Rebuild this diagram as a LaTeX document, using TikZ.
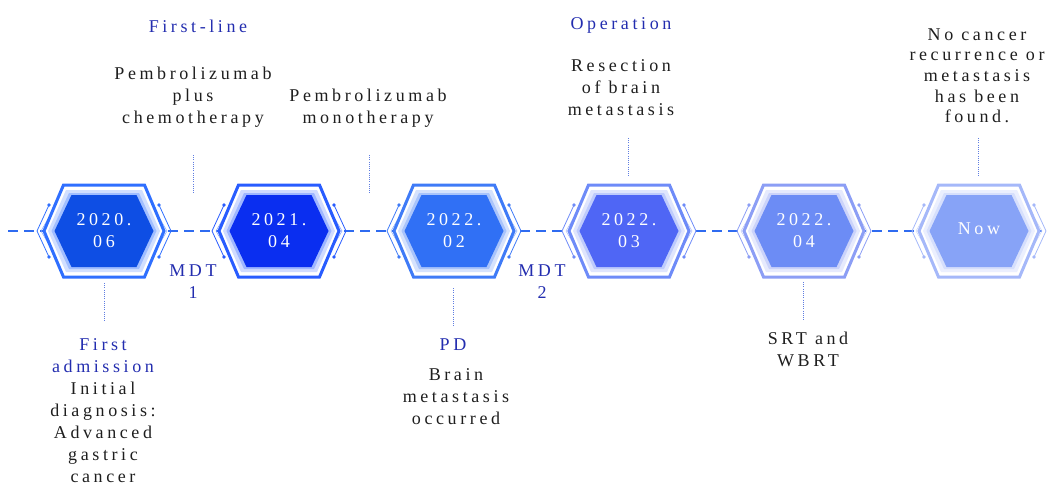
\documentclass[tikz,border=0pt]{standalone}
\usepackage{fontspec}
\setmainfont{Liberation Serif}[LetterSpace=20]
\usepackage{xcolor}
\usetikzlibrary{positioning}

\definecolor{tagblue}{RGB}{35,45,175}
\definecolor{ink}{RGB}{30,30,30}
\definecolor{axis}{RGB}{47,107,240}
\definecolor{dots}{RGB}{95,125,225}
\definecolor{fillA}{RGB}{14,78,228}  \definecolor{rimA}{RGB}{47,111,255}
\definecolor{fillB}{RGB}{10,46,240}  \definecolor{rimB}{RGB}{40,92,255}
\definecolor{fillC}{RGB}{48,112,245} \definecolor{rimC}{RGB}{63,123,247}
\definecolor{fillD}{RGB}{79,102,245} \definecolor{rimD}{RGB}{110,139,248}
\definecolor{fillE}{RGB}{108,140,245} \definecolor{rimE}{RGB}{140,158,245}
\definecolor{fillF}{RGB}{135,163,247} \definecolor{rimF}{RGB}{165,184,249}

% hexagon badge: centre x, fill, rim
\newcommand{\badge}[3]{%
  \draw[#3,line width=0.8pt] (#1-55,205) -- (#1-67,231) -- (#1-55,257);
  \draw[#3,line width=0.8pt] (#1+55,205) -- (#1+67,231) -- (#1+55,257);
  \draw[#3!60,line width=0.5pt] (#1-52,212) -- (#1-63,231) -- (#1-52,250);
  \draw[#3!60,line width=0.5pt] (#1+52,212) -- (#1+63,231) -- (#1+52,250);
  \fill[#3] (#1-55,205) circle (1.8pt) (#1-55,257) circle (1.8pt)
            (#1+55,205) circle (1.8pt) (#1+55,257) circle (1.8pt);
  \draw[#3,line width=3pt,fill=white] (#1-40.5,185) -- (#1+40.5,185) -- (#1+60,231)
       -- (#1+40.5,277) -- (#1-40.5,277) -- (#1-60,231) -- cycle;
  \fill[#3!22] (#1-38,190) -- (#1+38,190) -- (#1+56,231)
       -- (#1+38,272) -- (#1-38,272) -- (#1-56,231) -- cycle;
  \fill[#3!45] (#1-35,193) -- (#1+35,193) -- (#1+52.5,231)
       -- (#1+35,269) -- (#1-35,269) -- (#1-52.5,231) -- cycle;
  \fill[#2] (#1-32.5,195) -- (#1+32.5,195) -- (#1+49.5,231)
       -- (#1+32.5,267) -- (#1-32.5,267) -- (#1-49.5,231) -- cycle;
}

\tikzset{
  date/.style={text=white,align=center,font=\fontsize{18}{22}\selectfont},
  note/.style={text=ink,align=center,anchor=base,font=\fontsize{18}{22}\selectfont},
  tag/.style={text=tagblue,align=center,anchor=base,font=\fontsize{18}{22}\selectfont},
  link/.style={axis,line width=2pt,dash pattern=on 10pt off 6pt},
  stem/.style={dots,line width=0.8pt,dash pattern=on 1pt off 1.2pt}
}

\begin{document}
\begin{tikzpicture}[x=1pt,y=-1pt]
        \useasboundingbox (0,0) rectangle (1051,484);

        \coordinate (W) at (8,231);
        \coordinate (E) at (1047,231);
        \draw[link] (W) -- (E);

        \badge{104}{fillA}{rimA}
        \badge{279}{fillB}{rimB}
        \badge{454}{fillC}{rimC}
        \badge{629}{fillD}{rimD}
        \badge{804}{fillE}{rimE}
        \badge{979}{fillF}{rimF}

        \node[date] (D1) at (104,231) {2020.\\06};
        \node[date] (D2) at (279,231) {2021.\\04};
        \node[date] (D3) at (454,231) {2022.\\02};
        \node[date] (D4) at (629,231) {2022.\\03};
        \node[date] (D5) at (804,231) {2022.\\04};
        \node[date] (D6) at (979,229) {Now};

        % base = last line
        \node[tag] (FL) at (198,33) {First-line};
        \node[note] (PC) at (193,124) {Pembrolizumab\\plus\\chemotherapy};
        \node[note] (PM) at (368,124) {Pembrolizumab\\monotherapy};
        \node[tag] (OP) at (621,30) {Operation};
        \node[note] (RB) at (621,116) {Resection\\of brain\\metastasis};
        \node[note,font=\fontsize{18}{20.7}\selectfont] (NC) at (977,123)
            {No cancer\\recurrence or\\metastasis\\has been\\found.};

        \node[tag] (M1) at (193,298) {MDT\\1};
        \node[tag] (M2) at (542,298) {MDT\\2};
        \node[tag] (FA) at (103,372) {First\\admission};
        \node[note] (ID) at (103,482) {Initial\\diagnosis:\\Advanced\\gastric\\cancer};
        \node[tag] (PD) at (453,350) {PD};
        \node[note] (BM) at (456,424) {Brain\\metastasis\\occurred};
        \node[note] (SW) at (808,366) {SRT and\\WBRT};

        % dotted stems
        \coordinate (s1a) at (104,283); \coordinate (s1b) at (104,321);
        \coordinate (s2a) at (193,155); \coordinate (s2b) at (193,193);
        \coordinate (s3a) at (369,155); \coordinate (s3b) at (369,193);
        \coordinate (s4a) at (453,288); \coordinate (s4b) at (453,327);
        \coordinate (s5a) at (628,138); \coordinate (s5b) at (628,177);
        \coordinate (s6a) at (803,282); \coordinate (s6b) at (803,321);
        \coordinate (s7a) at (978,138); \coordinate (s7b) at (978,177);
        \foreach \i in {1,...,7} \draw[stem] (s\i a) -- (s\i b);
    \end{tikzpicture}
\end{document}
